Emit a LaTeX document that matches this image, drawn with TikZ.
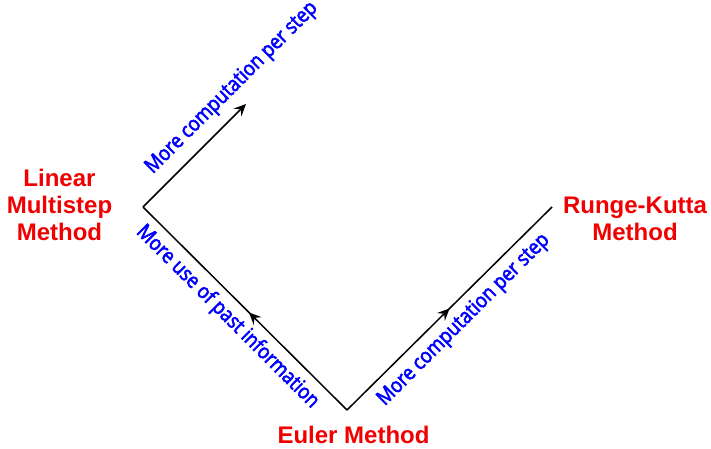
\documentclass[tikz,border=0pt]{standalone}
\usepackage{fontspec}
\setmainfont{Liberation Sans}
\newfontfamily\bluefont[FakeStretch=0.87,FakeBold=2.6]{Open Sans}
\usetikzlibrary{arrows.meta,decorations.markings}
\definecolor{mred}{RGB}{240,0,0}
\definecolor{mblue}{RGB}{0,0,255}
\tikzset{
  conn/.style={line width=1.5pt, black},
  tip/.tip={Stealth[length=12pt,width=11pt,inset=4.5pt]},
  midarrow/.style={postaction={decorate}, decoration={markings, mark=at position #1 with {\arrow{tip}}}},
  method/.style={text=mred, font=\fontsize{24}{27}\selectfont\bfseries, align=center, inner sep=0pt},
  steplabel/.style={text=mblue, font=\bluefont\fontsize{21}{23}\selectfont, inner sep=0pt}
}
\begin{document}
\begin{tikzpicture}[x=1pt,y=-1pt]
\useasboundingbox (0,0) rectangle (711,449);
\coordinate (E) at (347,410);
\coordinate (L) at (143,207);
\coordinate (R) at (552,207);
\coordinate (T) at (246,104);
\draw[conn, midarrow=0.5] (E) -- (R);
\draw[conn, midarrow=0.48] (E) -- (L);
\draw[conn, -tip] (L) -- (T);
\node[method, anchor=base] (euler) at (353.5,443) {Euler Method};
\node[method, anchor=base] (lms) at (59.5,240) {Linear\\Multistep\\Method};
\node[method, anchor=base] (rk) at (635,240) {Runge-Kutta\\Method};
\node[steplabel, rotate=45] (lrk) at (464,320) {More computation per step};
\node[steplabel, rotate=-45] (llms) at (227.5,317) {More use of past information};
\node[steplabel, rotate=45] (ltop) at (232,88) {More computation per step};
\end{tikzpicture}
\end{document}
